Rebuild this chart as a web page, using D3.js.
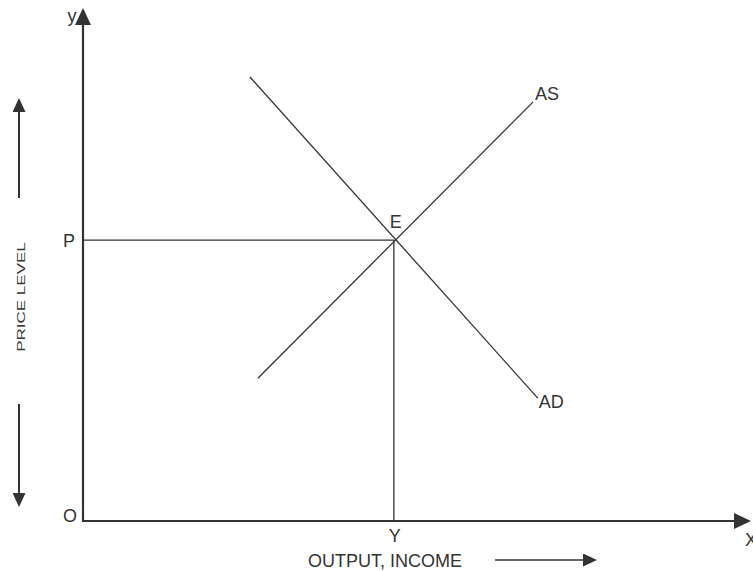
<!DOCTYPE html>
<html>
<head>
<meta charset="utf-8">
<script src="https://cdn.jsdelivr.net/npm/d3@7"></script>
<style>
  body { margin: 0; background: #fff; }
  text { font-family: "Liberation Sans", Arial, sans-serif; font-size: 18px; fill: #333; }
</style>
</head>
<body>
<script>
// 1. sizes
const w = 753;
const h = 571;

// 2. data (in chart units)
const asCurve = [[2.65, 2.81], [6.82, 8.25]];
const adCurve = [[2.53, 8.74], [6.89, 2.42]];
const equilibrium = [4.71, 5.53];
const xMax = 10;
const yMax = 10;

// 3. scales
const xScale = d3.scaleLinear().domain([0, xMax]).range([83, 743]);
const yScale = d3.scaleLinear().domain([0, yMax]).range([521, 13]);

// 4. svg
const svg = d3.select("body").append("svg")
  .attr("width", w)
  .attr("height", h);

const defs = svg.append("defs");
function addMarker(id, len, wid) {
  defs.append("marker")
    .attr("id", id)
    .attr("viewBox", `0 0 ${len} ${wid}`)
    .attr("refX", 0).attr("refY", wid / 2)
    .attr("markerWidth", len).attr("markerHeight", wid)
    .attr("markerUnits", "userSpaceOnUse")
    .attr("orient", "auto")
    .append("path")
    .attr("d", `M0,0 L${len},${wid / 2} L0,${wid} Z`)
    .attr("fill", "#333");
}
addMarker("axisArrow", 17, 16);
addMarker("bigArrow", 14, 13);

const line = d3.line().x(d => xScale(d[0])).y(d => yScale(d[1]));

// 5. axes
svg.append("line")
  .attr("x1", xScale(0) - 1).attr("y1", yScale(0))
  .attr("x2", 734).attr("y2", yScale(0))
  .attr("stroke", "#333").attr("stroke-width", 2.2)
  .attr("marker-end", "url(#axisArrow)");

svg.append("line")
  .attr("x1", xScale(0)).attr("y1", yScale(0) + 1)
  .attr("x2", xScale(0)).attr("y2", 25)
  .attr("stroke", "#333").attr("stroke-width", 2.2)
  .attr("marker-end", "url(#axisArrow)");

// 6. curves
svg.append("path").datum(asCurve).attr("d", line)
  .attr("fill", "none").attr("stroke", "#333").attr("stroke-width", 1.3);
svg.append("path").datum(adCurve).attr("d", line)
  .attr("fill", "none").attr("stroke", "#333").attr("stroke-width", 1.3);

// dropping lines from E
svg.append("path")
  .datum([[0, equilibrium[1]], equilibrium, [equilibrium[0], 0]])
  .attr("d", line)
  .attr("fill", "none").attr("stroke", "#333").attr("stroke-width", 1.3);

// 7. labels
const labels = [
  { t: "y", x: 0, y: yMax, dx: -11, dy: 9, anchor: "middle" },
  { t: "X", x: xMax, y: 0, dx: 2, dy: 25, anchor: "start" },
  { t: "O", x: 0, y: 0, dx: -13, dy: 1, anchor: "middle" },
  { t: "P", x: 0, y: equilibrium[1], dx: -14, dy: 7, anchor: "middle" },
  { t: "Y", x: equilibrium[0], y: 0, dx: 1, dy: 21, anchor: "middle" },
  { t: "E", x: equilibrium[0], y: equilibrium[1], dx: 2, dy: -12, anchor: "middle" },
  { t: "AS", x: asCurve[1][0], y: asCurve[1][1], dx: 2, dy: -2, anchor: "start" },
  { t: "AD", x: adCurve[1][0], y: adCurve[1][1], dx: 1, dy: 10, anchor: "start" }
];

svg.selectAll("text.lbl").data(labels).enter().append("text")
  .attr("class", "lbl")
  .attr("x", d => xScale(d.x) + d.dx)
  .attr("y", d => yScale(d.y) + d.dy)
  .attr("text-anchor", d => d.anchor)
  .text(d => d.t);

// axis titles with arrows
svg.append("text")
  .attr("transform", "translate(25,297) rotate(-90) scale(1,0.68)")
  .attr("text-anchor", "middle")
  .style("font-size", "17px")
  .text("PRICE LEVEL");

svg.append("line")
  .attr("x1", 19).attr("y1", 198).attr("x2", 19).attr("y2", 112)
  .attr("stroke", "#333").attr("stroke-width", 2)
  .attr("marker-end", "url(#bigArrow)");
svg.append("line")
  .attr("x1", 19).attr("y1", 404).attr("x2", 19).attr("y2", 493)
  .attr("stroke", "#333").attr("stroke-width", 2)
  .attr("marker-end", "url(#bigArrow)");

svg.append("text")
  .attr("x", 385).attr("y", 567)
  .attr("text-anchor", "middle")
  .text("OUTPUT, INCOME");

svg.append("line")
  .attr("x1", 495).attr("y1", 560).attr("x2", 583).attr("y2", 560)
  .attr("stroke", "#333").attr("stroke-width", 1.5)
  .attr("marker-end", "url(#bigArrow)");
</script>
</body>
</html>
